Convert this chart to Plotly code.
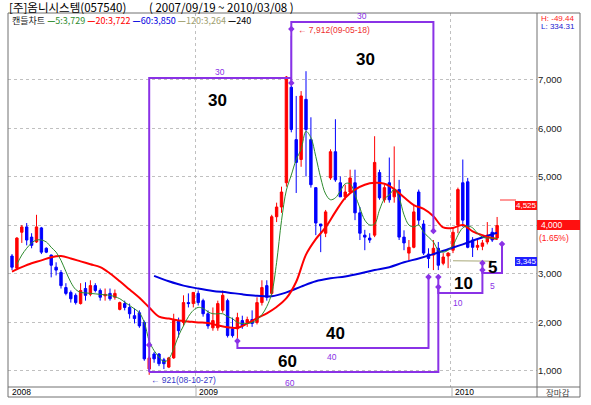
import pandas as pd
import plotly.graph_objects as go

# weekly candles of the visible window, first one on 2008-04-14
first_week = pd.Timestamp("2008-04-14")

opens = [3370, 3120, 3860, 3970, 3760, 3660, 3950, 3530, 3390, 3140,
         3030, 2720, 2620, 2560, 2390, 2700, 2580, 2760, 2660, 2550,
         2600, 2520, 2270, 2390, 2310, 2140, 2200, 2000, 1040, 1350,
         1350, 1230, 1080, 1270, 2040, 2000, 2410, 2390, 2600, 2450,
         2180, 1890, 1890, 2250, 2450, 1870, 1870, 2040, 1980, 2060,
         2000, 2410, 2760, 2600, 4180, 4380, 4880, 6850, 5770, 5360,
         6600, 5770, 4780, 4030, 3840, 4980, 5520, 4880, 4590, 4690,
         4880, 4260, 3800, 3740, 3800, 5090, 4530, 4880, 4590, 4740,
         3760, 3430, 3550, 4690, 4030, 3410, 3390, 3530, 3220, 3370,
         3490, 4010, 4880, 4900, 3700, 3550, 3570, 3660, 3860, 3740]
highs = [3410, 3760, 4010, 4050, 3840, 4220, 3970, 3550, 3400, 3240,
         3080, 2810, 2660, 2600, 2810, 2830, 2870, 2810, 2700, 2700,
         2700, 2680, 2430, 2450, 2390, 2290, 2250, 2040, 1310, 1390,
         1370, 1270, 1290, 2180, 2100, 2560, 2600, 2620, 2660, 2490,
         2250, 2310, 2450, 2660, 2490, 2100, 2200, 2140, 2120, 2250,
         2520, 2870, 2870, 4220, 4470, 4800, 7080, 7912, 6670, 6770,
         7180, 6230, 4780, 4030, 4320, 5570, 6190, 5010, 4840, 5150,
         5150, 4380, 3910, 3840, 5840, 5150, 4840, 5400, 5630, 4940,
         3900, 3700, 4420, 4740, 4110, 3530, 3700, 3660, 3430, 3450,
         3950, 4780, 5360, 4980, 3760, 3700, 3700, 4070, 3950, 4175]
lows = [3080, 3080, 3640, 3590, 3530, 3640, 3410, 3430, 2930, 2970,
        2700, 2560, 2410, 2370, 2370, 2450, 2540, 2620, 2450, 2450,
        2450, 2470, 2250, 2250, 2080, 1980, 1890, 1210, 921, 1170,
        1100, 1040, 1060, 1250, 1690, 1930, 2310, 2310, 2350, 2120,
        1870, 1830, 1830, 2200, 1690, 1690, 1560, 1870, 1910, 1910,
        1960, 2350, 2450, 2540, 4070, 4260, 4800, 5920, 4670, 5210,
        5010, 4780, 3800, 3450, 3760, 4940, 4900, 4590, 4530, 4670,
        4110, 3700, 3490, 3640, 3760, 4530, 4470, 4470, 4470, 3700,
        3490, 3280, 3530, 4010, 3390, 3120, 3080, 3080, 3180, 3120,
        3430, 3840, 3970, 3530, 3350, 3490, 3490, 3610, 3660, 3700]
closes = [3140, 3740, 3970, 3700, 3590, 3970, 3450, 3450, 3180, 3080,
          2760, 2600, 2490, 2410, 2660, 2560, 2760, 2660, 2520, 2580,
          2490, 2600, 2410, 2310, 2180, 2080, 1930, 1250, 1270, 1250,
          1150, 1150, 1270, 2040, 1830, 2410, 2390, 2620, 2410, 2180,
          1930, 2040, 2390, 2560, 1730, 1730, 2100, 1930, 2060, 1980,
          2410, 2720, 2520, 4180, 4380, 4690, 7060, 5980, 5300, 6670,
          5980, 4840, 4050, 3990, 4280, 5520, 4940, 4590, 4690, 4980,
          4260, 3840, 3760, 3700, 5300, 4570, 4780, 4530, 4740, 3760,
          3640, 3550, 4280, 4110, 3430, 3320, 3530, 3180, 3350, 3430,
          3860, 4740, 4110, 3550, 3550, 3590, 3640, 3800, 3700, 4000]

# moving averages (week number -> value)
ma5_weeks = list(range(1, 100))
ma5 = [3200, 3390, 3530, 3640, 3700, 3700, 3660, 3550, 3450, 3280,
       3050, 2830, 2680, 2620, 2610, 2600, 2590, 2580, 2570, 2560,
       2530, 2490, 2420, 2350, 2280, 2200, 2000, 1620, 1420, 1290,
       1190, 1250, 1460, 1730, 1930, 2120, 2250, 2310, 2290, 2220,
       2180, 2180, 2180, 2120, 2080, 2000, 1980, 1980, 2000, 2060,
       2160, 2330, 2600, 3240, 4100, 4730, 5040, 5360, 5570, 5940,
       5810, 5420, 4980, 4650, 4530, 4570, 4710, 4860, 4860, 4630,
       4360, 4110, 4010, 4030, 4320, 4550, 4630, 4740, 4570, 4220,
       4010, 3970, 4010, 3860, 3760, 3660, 3490, 3450, 3490, 3590,
       3800, 3950, 3990, 3950, 3840, 3760, 3740, 3740, 3729]
ma20_weeks = [0, 2, 4, 6, 8, 10, 12, 14, 16, 18, 20, 22, 24, 26, 28, 30,
              32, 34, 36, 38, 40, 42, 44, 46, 48, 50, 52, 54, 56, 58, 60,
              62, 64, 66, 68, 70, 72, 74, 76, 78, 80, 82, 84, 86, 88, 90,
              92, 94, 96, 98, 99]
ma20 = [3050, 3140, 3220, 3280, 3345, 3370, 3320, 3260, 3200, 3140, 3010,
        2850, 2680, 2510, 2310, 2120, 2080, 2040, 2020, 2000, 1990, 1940,
        1900, 1890, 1980, 2090, 2190, 2320, 2500, 2840, 3400, 3720, 3960,
        4280, 4570, 4740, 4840, 4880, 4860, 4750, 4580, 4420, 4340, 4190,
        3960, 3950, 4010, 3880, 3800, 3740, 3722]
ma60_weeks = [29, 32, 35, 38, 41, 44, 47, 50, 53, 56, 59, 62, 65, 68, 71,
              74, 77, 80, 83, 86, 89, 92, 95, 98, 99]
ma60 = [2960, 2850, 2760, 2700, 2650, 2620, 2580, 2550, 2540, 2620, 2740,
        2850, 2910, 2950, 3010, 3080, 3140, 3240, 3320, 3410, 3510, 3610,
        3720, 3820, 3850]
ma120_weeks = [90, 92, 94, 96, 98]
ma120 = [3272, 3270, 3267, 3265, 3264]

price_ticks = [1000, 2000, 3000, 4000, 5000, 6000, 7000]
price_labels = ["1,000", "2,000", "3,000", "", "5,000", "6,000", "7,000"]
year_starts = ["2009-01-01", "2010-01-01"]

# wave count drawings: polyline + marker points, in (week, price)
wave_lines = [
    [(28, 979), (28, 7042), (57, 7042)],
    [(57, 6939), (57, 8196), (86, 8196), (86, 3887)],
    [(28, 979), (87, 979), (87, 2938)],
    [(46, 1619), (46, 1474), (85, 1474), (85, 2938)],
    [(87, 2732), (87, 2608), (96, 2608), (96, 3083)],
    [(96, 3227), (96, 3021), (100, 3021), (100, 3619)],
]
wave_marks = [(28, 1536), (57, 6939), (57, 8052), (86, 3887), (87, 2938),
              (85, 2938), (46, 1619), (87, 2732), (96, 3083), (96, 3227),
              (100, 3619)]

PURPLE = "#8a32e6"
NUM_FONT = "Liberation Sans, Arial, sans-serif"
KR_FONT = "Noto Sans CJK KR, sans-serif"


def wk(i):
    return first_week + pd.Timedelta(days=7 * i)


def xp(x):
    # picture pixel -> paper (plot area spans x 8..537, y 13..387)
    return (x - 8) / 529


def yp(y):
    return (387 - y) / 374


dates = [wk(i) for i in range(len(opens))]

fig = go.Figure()

fig.add_trace(go.Candlestick(
    x=dates, open=opens, high=highs, low=lows, close=closes,
    increasing=dict(line=dict(color="#ff0000", width=1), fillcolor="#ff0000"),
    decreasing=dict(line=dict(color="#0000ff", width=1), fillcolor="#0000ff"),
    whiskerwidth=0, showlegend=False, hoverinfo="skip"))

for weeks, vals, color, width, shape in [
        (ma120_weeks, ma120, "#a8a878", 1, "linear"),
        (ma60_weeks, ma60, "#0000e0", 2, "spline"),
        (ma20_weeks, ma20, "#ff0000", 2, "spline"),
        (ma5_weeks, ma5, "#2e8b2e", 1, "spline")]:
    fig.add_trace(go.Scatter(
        x=[wk(i) for i in weeks], y=vals, mode="lines",
        line=dict(color=color, width=width, shape=shape),
        showlegend=False, hoverinfo="skip"))

for pts in wave_lines:
    fig.add_trace(go.Scatter(
        x=[wk(p[0]) for p in pts], y=[p[1] for p in pts], mode="lines",
        line=dict(color=PURPLE, width=2), showlegend=False, hoverinfo="skip"))
fig.add_trace(go.Scatter(
    x=[wk(p[0]) for p in wave_marks], y=[p[1] for p in wave_marks],
    mode="markers", marker=dict(symbol="diamond", size=5, color=PURPLE),
    showlegend=False, hoverinfo="skip"))

shapes = []
frame = dict(color="#707070", width=1)
shapes.append(dict(type="rect", xref="paper", yref="paper",
                   x0=xp(8), x1=xp(580), y0=yp(397), y1=yp(13), line=frame))
shapes.append(dict(type="line", xref="paper", yref="paper",
                   x0=xp(8), x1=xp(580), y0=yp(387), y1=yp(387), line=frame))
shapes.append(dict(type="line", xref="paper", yref="paper",
                   x0=xp(537), x1=xp(537), y0=yp(397), y1=yp(13), line=frame))
for xs in [196, 452]:
    shapes.append(dict(type="line", xref="paper", yref="paper",
                       x0=xp(xs), x1=xp(xs), y0=yp(397), y1=yp(387),
                       line=dict(color="#b0b0b0", width=1)))
# right side price tags
shapes.append(dict(type="line", xref="paper", yref="y", x0=xp(500), x1=xp(516),
                   y0=4525, y1=4525, line=dict(color="#ff3030", width=1)))
shapes.append(dict(type="rect", xref="paper", yref="paper", x0=xp(515), x1=xp(537),
                   y0=yp(210), y1=yp(201), fillcolor="#ff1010", line=dict(width=0)))
shapes.append(dict(type="rect", xref="paper", yref="paper", x0=xp(537), x1=xp(580),
                   y0=yp(230), y1=yp(220), fillcolor="#ff1010", line=dict(width=0)))
shapes.append(dict(type="rect", xref="paper", yref="paper", x0=xp(515), x1=xp(537),
                   y0=yp(266), y1=yp(257), fillcolor="#2020ff", line=dict(width=0)))

ann = []


def text(s, x, y, size=9, color="#000000", anchor="left", family=NUM_FONT, bold=False):
    ann.append(dict(text=f"<b>{s}</b>" if bold else s, x=xp(x), y=yp(y),
                    xref="paper", yref="paper", xanchor=anchor, yanchor="middle",
                    borderpad=0, showarrow=False,
                    font=dict(size=size, color=color, family=family)))


text("[주]옴니시스템(057540)", 8, 7, size=11.5, family=KR_FONT)
text("( 2007/09/19 ~ 2010/03/08 )", 148, 7, size=11.5, family=KR_FONT)
legend_html = ("캔들차트 <span style='color:#2e8b2e'><b>—</b>5:3,729</span> "
               "<span style='color:#ff0000'><b>—</b>20:3,722</span> "
               "<span style='color:#0000e0'><b>—</b>60:3,850</span> "
               "<span style='color:#a0a070'><b>—</b>120:3,264</span> "
               "<span style='color:#000000'><b>—</b>240</span>")
text(legend_html, 11, 21, size=9, color="#202020", family=KR_FONT)
text("H: -49.44", 540, 18, size=8, color="#ff2020")
text("L: 334.31", 540, 26, size=8, color="#2020d0")

for s, x in [("2008", 11), ("2009", 198), ("2010", 454)]:
    text(s, x, 392, size=8.5)
text("장마감", 545, 392, size=8.5, color="#404040", family=KR_FONT)

text("4,525", 526, 205.5, size=8, color="#ffffff", anchor="center")
text("4,000", 540, 225, size=8.5, color="#ffffff")
text("(1.65%)", 538, 238, size=8.5, color="#ff2020")
text("3,345", 526, 261.5, size=8, color="#ffffff", anchor="center")

text("← 7,912(09-05-18)", 297, 30, size=8.5, color="#ee3030")
text("← 921(08-10-27)", 150, 380, size=8.5, color="#3838c8")

for s, x, y in [("30", 217, 100), ("30", 365, 60), ("40", 335, 333),
                ("60", 287, 361), ("10", 463, 283), ("5", 492, 267)]:
    text(s, x, y, size=17, anchor="center", bold=True)
for s, x, y in [("30", 220, 72), ("30", 362, 16), ("40", 332, 357),
                ("60", 290, 383), ("10", 458, 303), ("5", 492, 286)]:
    text(s, x, y, size=8.5, color=PURPLE, anchor="center")

fig.update_layout(
    width=591, height=405,
    margin=dict(l=8, r=54, t=13, b=18),
    paper_bgcolor="white", plot_bgcolor="white",
    shapes=shapes, annotations=ann,
    xaxis=dict(type="date", range=[wk(-0.816), wk(107.14)],
               rangeslider=dict(visible=False),
               tickvals=year_starts, showticklabels=False, ticks="",
               showgrid=True, gridcolor="#c0c0c0", griddash="dot",
               zeroline=False, showline=False),
    yaxis=dict(side="right", range=[670, 8380], tickvals=price_ticks,
               ticktext=price_labels, ticks="",
               tickfont=dict(size=9.5, color="#202020", family=NUM_FONT),
               showgrid=True, gridcolor="#c0c0c0", griddash="dot",
               zeroline=False, showline=False),
)

# drop the browser's default 8px body margin so the figure sits at the corner
fig.write_html("out.html", config={"displayModeBar": False},
               post_script="document.body.style.margin = '0';")
